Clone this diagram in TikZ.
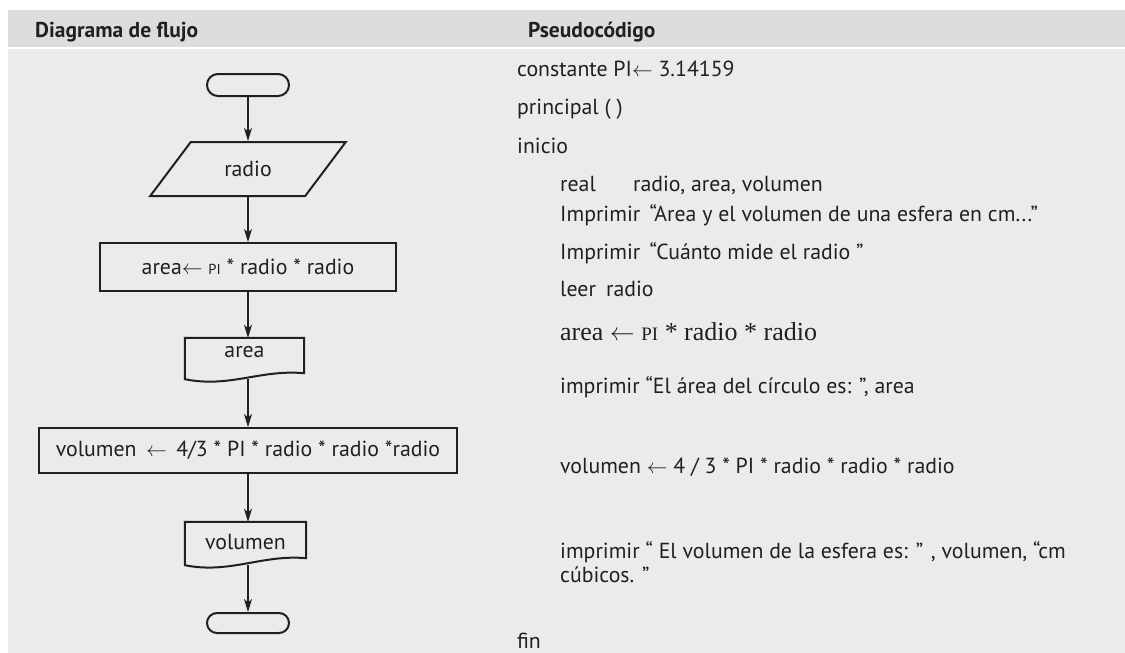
\documentclass[tikz,border=0pt]{standalone}
\usepackage{fontspec}
\setmainfont{PT Sans}
\newfontfamily\serifface{Liberation Serif}
\usetikzlibrary{arrows.meta,shapes.geometric,shapes.misc}
\definecolor{hdr}{HTML}{DCDDDF}
\definecolor{bodybg}{HTML}{EBEBED}
\definecolor{ink}{HTML}{231F20}
\newcommand{\txt}{\fontsize{21.8}{23}\selectfont}
\begin{document}
\begin{tikzpicture}[x=1pt,y=-1pt,
  shapeline/.style={draw=ink,line width=2pt,text=ink,font=\txt,inner sep=0pt},
  term/.style={shapeline,rounded rectangle,minimum width=82,minimum height=22},
  io/.style={shapeline,trapezium,trapezium left angle=43,trapezium right angle=137,trapezium stretches=true,minimum width=196,minimum height=54},
  proc/.style={shapeline,rectangle},
  docnode/.style={rectangle,text=ink,font=\txt,inner sep=0pt},
  docline/.style={draw=ink,line width=2pt,line join=miter},
  arr/.style={draw=ink,line width=1.1pt,-{Stealth[length=13pt,width=8pt,inset=3.5pt]}},
  code/.style={anchor=base west,inner sep=0pt,text=ink,font=\txt},
  head/.style={anchor=base west,inner sep=0pt,text=ink,font=\fontsize{21.5}{23}\selectfont\bfseries}]
\useasboundingbox (0,0) rectangle (1125,653);
\fill[white] (0,0) rectangle (1125,653);
\fill[hdr] (8,10) rectangle (1125,46.5);
\fill[bodybg] (8,49) rectangle (1125,653);
\node[head] (h1) at (35,37) {Diagrama de flujo};
\node[head] (h2) at (528,37) {Pseudocódigo};
% flowchart
\node[term] (start) at (248,85) {};
\node[io] (radio) at (248,169) {radio};
\node[proc,minimum width=296,minimum height=48] (r1) at (248,267) {area$\leftarrow$ {\fontsize{14.5}{16}\selectfont PI} * radio * radio};
\node[docnode,minimum width=119,minimum height=41,text height=10pt,text depth=13pt] (area) at (244.5,358.5) {area};
\draw[docline] (area.north west) -- (area.north east) -- ([yshift=6pt]area.south east) .. controls +(-44,-4) and +(45,9) .. (area.south west) -- cycle;
\node[proc,minimum width=418,minimum height=45] (r2) at (248,450.5) {volumen \,$\leftarrow$\, 4/3 * PI * radio * radio *radio};
\node[docnode,minimum width=121,minimum height=43,text depth=3pt] (vol) at (245.5,543.5) {volumen};
\draw[docline] (vol.north west) -- (vol.north east) -- ([yshift=7pt]vol.south east) .. controls +(-44,-4) and +(45,9) .. (vol.south west) -- cycle;
\node[term,minimum height=20] (end) at (248,623) {};
\draw[arr] (start) -- (radio);
\draw[arr] (radio) -- (r1);
\draw[arr] (r1.south) -- (r1.south |- area.north);
\draw[arr] (r2.north |- area.south) -- (r2.north);
\draw[arr] (r2.south) -- (r2.south |- vol.north);
\draw[arr] (end.north |- vol.south) -- (end.north);
% pseudocode
\node[code] (p1) at (517,76) {constante PI$\leftarrow$ 3.14159};
\node[code] (p2) at (517,114) {principal ( )};
\node[code] (p3) at (517,153) {inicio};
\node[code] (p4) at (560,191) {\makebox[73pt][l]{real}radio, area, volumen};
\node[code] (p5) at (560,221) {Imprimir \,“Area y el volumen de una esfera en cm...”};
\node[code] (p6) at (560,259) {Imprimir \,“Cuánto mide el radio ”};
\node[code] (p7) at (560,296) {\makebox[46pt][l]{leer}radio};
\node[code,font=\serifface\fontsize{26}{28}\selectfont] (p8) at (560,340) {area $\leftarrow$ {\fontsize{19}{20}\selectfont PI} * radio * radio};
\node[code] (p9) at (560,393) {imprimir “El área del círculo es: ”, area};
\node[code] (p10) at (560,473) {volumen $\leftarrow$ 4 / 3 * PI * radio * radio * radio};
\node[code] (p11) at (560,558) {imprimir “ El volumen de la esfera es: ” , volumen, “cm};
\node[code] (p12) at (560,582) {cúbicos. ”};
\node[code] (p13) at (517,648) {fin};
\end{tikzpicture}
\end{document}
